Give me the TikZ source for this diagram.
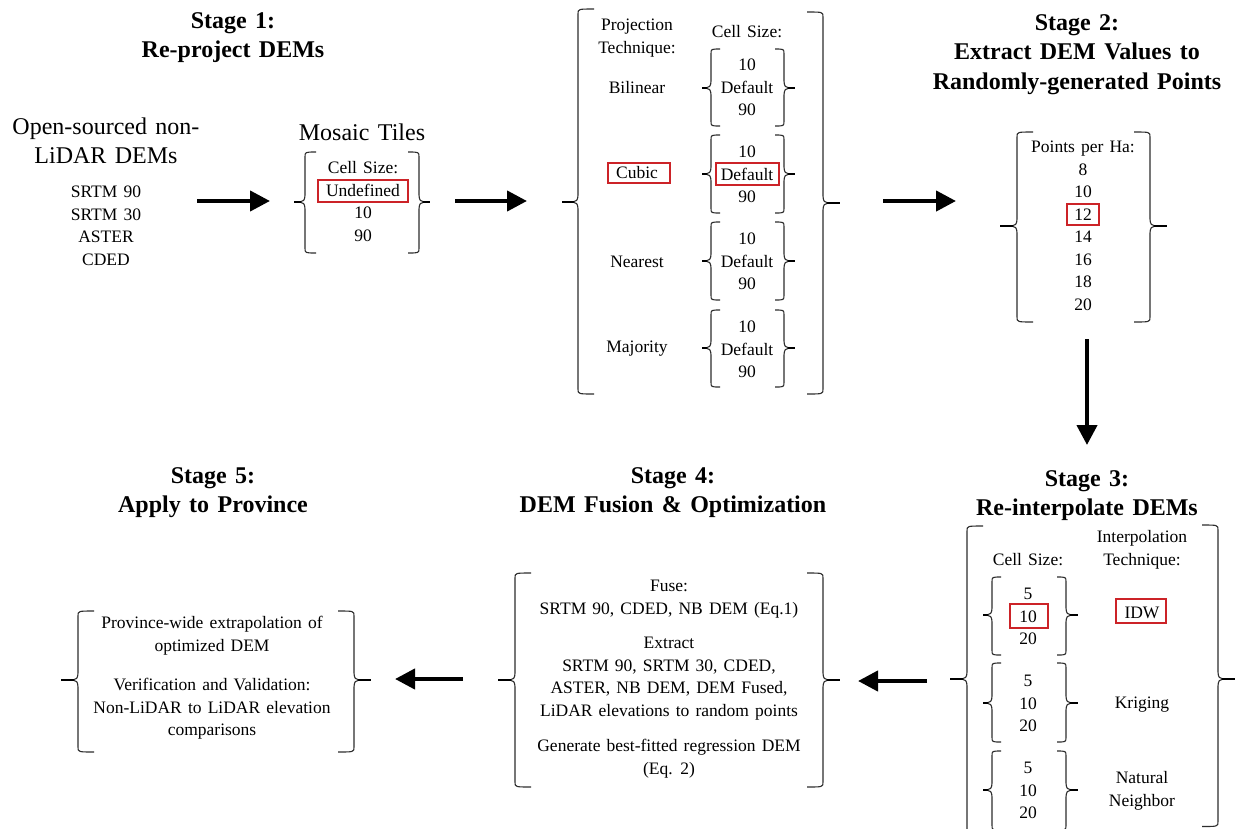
\documentclass[tikz,border=0pt]{standalone}
\usepackage{fontspec}
\setmainfont[WordSpace=1.4]{Liberation Serif}
\usetikzlibrary{arrows.meta}
\definecolor{hlred}{RGB}{204,35,40}
\definecolor{brkgray}{RGB}{45,45,45}
% left bracket: [hook]{x}{top}{mid}{bottom}{tick end x}
\newcommand\BrL[6][16]{%
  \draw[brk] ({#2+#1},#3) .. controls (#2,#3) .. (#2,{#3+5}) -- (#2,{#4-7})
    .. controls (#2,{#4-2}) and ({#2-2},#4) .. ({#2-5},#4) .. controls ({#2-2},#4) and (#2,{#4+2}) .. (#2,{#4+7})
    -- (#2,{#5-5}) .. controls (#2,#5) .. ({#2+#1},#5);
  \draw[tickln] ({#2-4},#4) -- (#6,#4);}
% right bracket
\newcommand\BrR[6][16]{%
  \draw[brk] ({#2-#1},#3) .. controls (#2,#3) .. (#2,{#3+5}) -- (#2,{#4-7})
    .. controls (#2,{#4-2}) and ({#2+2},#4) .. ({#2+5},#4) .. controls ({#2+2},#4) and (#2,{#4+2}) .. (#2,{#4+7})
    -- (#2,{#5-5}) .. controls (#2,#5) .. ({#2-#1},#5);
  \draw[tickln] ({#2+4},#4) -- (#6,#4);}
\tikzset{
  brk/.style={draw=brkgray, line width=1.1pt},
  tickln/.style={draw=black, line width=1.6pt},
  arr/.style={line width=4.2pt, -{Triangle[length=20pt,width=20pt]}},
  sm/.style={font=\fontsize{17.5}{22.5}\selectfont, align=center, inner sep=0pt, anchor=north},
  bg/.style={font=\fontsize{24}{29}\selectfont, align=center, inner sep=0pt, anchor=north},
  ttl/.style={font=\bfseries\fontsize{24}{29.5}\selectfont, align=center, inner sep=0pt, anchor=north},
  hl/.style={draw=hlred, line width=1.1pt, inner sep=0pt},
}
\begin{document}
\begin{tikzpicture}[x=1pt,y=-1pt]
\useasboundingbox (0,0) rectangle (1235,828);
\clip (0,0) rectangle (1235,828);
\fill[white] (0,0) rectangle (1235,828);

% ---------- titles
\node[ttl] (t1) at (233,7.3) {\strut Stage 1:\\Re-project DEMs};
\node[ttl] (t2) at (1077,9.3) {\strut Stage 2:\\Extract DEM Values to\\Randomly-generated Points};
\node[ttl] (t3) at (1087,465.3) {\strut Stage 3:\\Re-interpolate DEMs};
\node[ttl] (t4) at (673,462.3) {\strut Stage 4:\\DEM Fusion \& Optimization};
\node[ttl] (t5) at (213,462.3) {\strut Stage 5:\\Apply to Province};

% ---------- stage 1
\node[bg] (src) at (106,113.6) {\strut Open-sourced non-\\LiDAR DEMs};
\node[sm] (srclist) at (106,182) {\strut SRTM 90\\SRTM 30\\ASTER\\CDED};
\node[bg] (mosT) at (362,119.6) {\strut Mosaic Tiles};
\BrL[11]{305}{152}{202}{253}{294}
\BrR[11]{419}{152}{202}{253}{430}
\node[sm] (mos) at (363,158) {\strut Cell Size:\\Undefined\\10\\90};
\node[hl, minimum width=90pt, minimum height=22pt] (hlU) at (363,191) {};

% ---------- projection
\BrL{578}{9}{202}{394}{562}
\BrR{823}{12}{203}{394}{840}
\node[sm] (projT) at (637,15) {\strut Projection\\Technique:};
\node[sm] (projC) at (747,22) {\strut Cell Size:};
\node[sm] (bil) at (637,78) {\strut Bilinear};
\node[sm] (cub) at (637,163) {\strut Cubic};
\node[sm] (nea) at (637,252) {\strut Nearest};
\node[sm] (maj) at (637,337) {\strut Majority};
\BrL[9]{711}{49}{88}{126}{702}   \BrR[9]{784}{49}{88}{126}{795}
\BrL[9]{711}{135}{174}{213}{702} \BrR[9]{784}{135}{174}{213}{795}
\BrL[9]{711}{222}{261}{300}{702} \BrR[9]{784}{222}{261}{300}{795}
\BrL[9]{711}{310}{348}{387}{702} \BrR[9]{784}{310}{348}{387}{795}
\node[sm] (pc1) at (747,55) {\strut 10\\Default\\90};
\node[sm] (pc2) at (747,142) {\strut 10\\Default\\90};
\node[sm] (pc3) at (747,229) {\strut 10\\Default\\90};
\node[sm] (pc4) at (747,317) {\strut 10\\Default\\90};
\node[hl, minimum width=62pt, minimum height=20pt] (hlC) at (639,173) {};
\node[hl, minimum width=63pt, minimum height=22pt] (hlD) at (747.5,174) {};

% ---------- points
\BrL{1017}{132}{226}{322}{1000}
\BrR{1150}{132}{226}{322}{1167}
\node[sm] (pts) at (1083,137) {\strut Points per Ha:\\8\\10\\12\\14\\16\\18\\20};
\node[hl, minimum width=32pt, minimum height=21pt] (hl12) at (1083,214.5) {};

% ---------- stage 3
\BrL{967}{526}{679}{834}{950}
\BrR{1218}{525}{679}{826.5}{1240}
\node[sm] (intT) at (1142,527) {\strut Interpolation\\Technique:};
\node[sm] (intC) at (1028,550) {\strut Cell Size:};
\BrL[9]{992}{577}{615}{655}{983} \BrR[9]{1066}{577}{615}{655}{1078}
\BrL[9]{992}{663}{703}{742}{983} \BrR[9]{1066}{663}{703}{742}{1078}
\BrL[9]{992}{751}{790}{830}{983} \BrR[9]{1066}{751}{790}{830}{1078}
\node[sm] (ic1) at (1028,584) {\strut 5\\10\\20};
\node[sm] (ic2) at (1028,671) {\strut 5\\10\\20};
\node[sm] (ic3) at (1028,758) {\strut 5\\10\\20};
\node[hl, minimum width=38pt, minimum height=24pt] (hl10) at (1029,616) {};
\node[sm] (idw) at (1142,603) {\strut IDW};
\node[hl, minimum width=50pt, minimum height=24pt] (hlI) at (1141,611) {};
\node[sm] (kri) at (1142,693) {\strut Kriging};
\node[sm] (nat) at (1142,768) {\strut Natural\\Neighbor};

% ---------- stage 4
\BrL{515}{573}{680}{787}{498}
\BrR{823}{573}{680}{787}{840}
\node[sm] (s4) at (669,576) {\strut Fuse:\\SRTM 90, CDED, NB DEM (Eq.1)\\[12pt]Extract\\SRTM 90, SRTM 30, CDED,\\ASTER, NB DEM, DEM Fused,\\LiDAR elevations to random points\\[13pt]Generate best-fitted regression DEM\\(Eq. 2)};

% ---------- stage 5
\BrL{78}{611}{680}{752}{61}
\BrR{354}{611}{680}{752}{371}
\node[sm] (s5) at (212,613) {\strut Province-wide extrapolation of\\optimized DEM\\[17pt]Verification and Validation:\\Non-LiDAR to LiDAR elevation\\comparisons};

% ---------- arrows
\coordinate (a1s) at (197,201); \coordinate (a1e) at (270,201);
\coordinate (a2s) at (455,201); \coordinate (a2e) at (527,201);
\coordinate (a3s) at (883,201); \coordinate (a3e) at (956,201);
\coordinate (a4s) at (1087,339); \coordinate (a4e) at (1087,445);
\coordinate (a5s) at (927,681); \coordinate (a5e) at (858,681);
\coordinate (a6s) at (463,679); \coordinate (a6e) at (395,679);
\draw[arr] (a1s) -- (a1e);
\draw[arr] (a2s) -- (a2e);
\draw[arr] (a3s) -- (a3e);
\draw[arr] (a4s) -- (a4e);
\draw[arr] (a5s) -- (a5e);
\draw[arr] (a6s) -- (a6e);
\end{tikzpicture}
\end{document}
